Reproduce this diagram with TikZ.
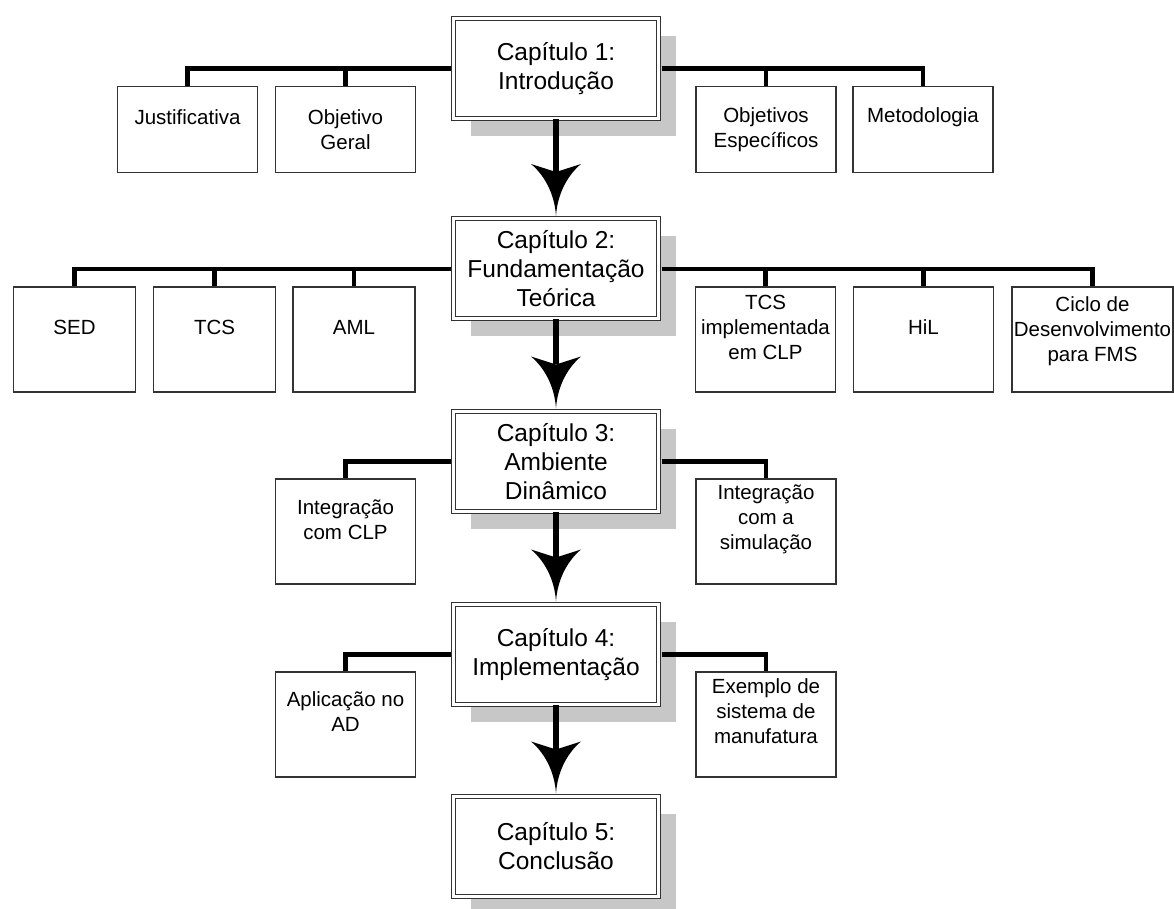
\documentclass[tikz,border=0pt]{standalone}
\usepackage{fontspec}
\setmainfont{Liberation Sans}
\usetikzlibrary{arrows.meta,shadows}

\pgfdeclarearrow{
  name = Barb,
  parameters = {\the\pgfarrowlength,\the\pgfarrowwidth,\the\pgfarrowinset},
  setup code = {
    \pgfarrowssettipend{\pgfarrowlength}
    \pgfarrowssetbackend{0pt}
    \pgfarrowssetlineend{\pgfarrowinset}
    \pgfarrowssavethe\pgfarrowlength
    \pgfarrowssavethe\pgfarrowwidth
    \pgfarrowssavethe\pgfarrowinset
  },
  drawing code = {
    \pgfpathmoveto{\pgfqpoint{\pgfarrowlength}{0pt}}
    \pgfpathcurveto{\pgfqpoint{0.55\pgfarrowlength}{0.03\pgfarrowwidth}}
      {\pgfqpoint{0.2\pgfarrowlength}{0.25\pgfarrowwidth}}
      {\pgfqpoint{0pt}{0.5\pgfarrowwidth}}
    \pgfpathlineto{\pgfqpoint{\pgfarrowinset}{0pt}}
    \pgfpathlineto{\pgfqpoint{0pt}{-0.5\pgfarrowwidth}}
    \pgfpathcurveto{\pgfqpoint{0.2\pgfarrowlength}{-0.25\pgfarrowwidth}}
      {\pgfqpoint{0.55\pgfarrowlength}{-0.03\pgfarrowwidth}}
      {\pgfqpoint{\pgfarrowlength}{0pt}}
    \pgfpathclose
    \pgfusepathqfill
  },
  defaults = {length=26pt,width=25pt,inset=4pt}
}

\begin{document}
\begin{tikzpicture}[x=0.5pt,y=-0.5pt]
\tikzset{
  chapter/.style={draw=black!80,line width=0.5pt,double,double distance=1.5pt,
    fill=white,minimum width=102.5pt,minimum height=50pt,inner sep=0pt,
    align=center,font=\fontsize{12.25}{14.5}\selectfont,
    drop shadow={shadow xshift=8.5pt,shadow yshift=-8.75pt,
      fill=black!22,opacity=1}},
  leaf/.style={draw=black!80,line width=0.7pt,fill=white,
    minimum width=70pt,minimum height=52.5pt,inner sep=0pt},
  shortleaf/.style={leaf,minimum height=43pt},
  narrowleaf/.style={leaf,minimum width=61pt},
  lbl/.style={align=center,font=\fontsize{10.25}{12.5}\selectfont,yshift=#1},
  lbl/.default=6pt,
  bus/.style={line width=2.2pt,shorten <=1.25pt},
  flow/.style={line width=3.2pt,shorten >=1.25pt,
    -{Barb[length=26pt,width=25pt,inset=4pt]}}
}
\useasboundingbox (0,0) rectangle (1174,909);

\node[chapter] (ch1) at (556,68.5) {Capítulo 1:\\Introdução};
\node[chapter] (ch2) at (556,269) {Capítulo 2:\\Fundamentação\\Teórica};
\node[chapter] (ch3) at (556,461.5) {Capítulo 3:\\Ambiente\\Dinâmico};
\node[chapter] (ch4) at (556,654.5) {Capítulo 4:\\Implementação};
\node[chapter] (ch5) at (556,846.5) {Capítulo 5:\\Conclusão};

\node[shortleaf,label={[lbl=6.25pt]center:Justificativa}] (just) at (187.5,129.5) {};
\node[shortleaf,label={[lbl=0pt]center:{Objetivo\\Geral}}] (objg) at (345.5,129.5) {};
\node[shortleaf,label={[lbl=0pt]center:{Objetivos\\Específicos}}] (obje) at (766,129.5) {};
\node[shortleaf,label={[lbl=6.25pt]center:Metodologia}] (metod) at (923,129.5) {};

\node[narrowleaf,label={[lbl]center:SED}] (sed) at (74.5,339.5) {};
\node[narrowleaf,label={[lbl]center:TCS}] (tcs) at (214.5,339.5) {};
\node[narrowleaf,label={[lbl]center:AML}] (aml) at (354,339.5) {};
\node[leaf,label={[lbl]center:{TCS\\implementada\\em CLP}}] (tcsclp) at (765.5,339.5) {};
\node[leaf,label={[lbl]center:HiL}] (hil) at (923.5,339.5) {};
\node[leaf,minimum width=80.5pt,
  label={[lbl=4pt]center:{Ciclo de\\Desenvolvimento\\para FMS}}] (ciclo) at (1092.5,339.5) {};

\node[leaf,label={[lbl]center:{Integração\\com CLP}}] (intclp) at (345.5,531.5) {};
\node[leaf,label={[lbl]center:{Integração\\com a\\simulação}}] (intsim) at (766,531.5) {};

\node[leaf,label={[lbl=6.5pt]center:{Aplicação no\\AD}}] (aplic) at (345.5,724.5) {};
\node[leaf,label={[lbl=6.5pt]center:{Exemplo de\\sistema de\\manufatura}}] (exemp) at (766,724.5) {};

\draw[bus] (ch1.west) -| (just.north);
\draw[bus] (ch1.west) -| (objg.north);
\draw[bus] (ch1.east) -| (obje.north);
\draw[bus] (ch1.east) -| (metod.north);

\draw[bus] (ch2.west) -| (sed.north);
\draw[bus] (ch2.west) -| (tcs.north);
\draw[bus] (ch2.west) -| (aml.north);
\draw[bus] (ch2.east) -| (tcsclp.north);
\draw[bus] (ch2.east) -| (hil.north);
\draw[bus] (ch2.east) -| (ciclo.north);

\draw[bus] (ch3.west) -| (intclp.north);
\draw[bus] (ch3.east) -| (intsim.north);

\draw[bus] (ch4.west) -| (aplic.north);
\draw[bus] (ch4.east) -| (exemp.north);

\draw[flow] (ch1.south) -- (ch2.north);
\draw[flow] (ch2.south) -- (ch3.north);
\draw[flow] (ch3.south) -- (ch4.north);
\draw[flow] (ch4.south) -- (ch5.north);
\end{tikzpicture}
\end{document}
